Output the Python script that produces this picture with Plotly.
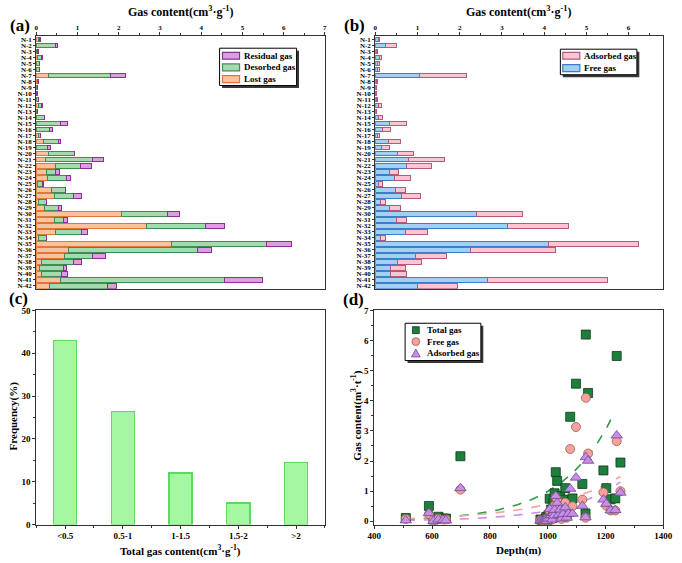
import numpy as np
import plotly.graph_objects as go

# ---------------- data ----------------
samples = [f"N-{i}" for i in range(1, 43)]

lost_gas = [0.05, 0.00, 0.01, 0.02, 0.01, 0.01, 0.30, 0.03, 0.01, 0.00,
            0.01, 0.06, 0.01, 0.01, 0.01, 0.01, 0.05, 0.17, 0.01, 0.29,
            0.22, 0.47, 0.25, 0.27, 0.02, 0.36, 0.44, 0.05, 0.20, 2.06,
            0.44, 2.68, 0.46, 0.05, 3.28, 0.79, 0.68, 0.12, 0.08, 0.13,
            0.59, 0.32]
desorbed_gas = [0.03, 0.46, 0.03, 0.11, 0.07, 0.07, 1.49, 0.02, 0.02, 0.01,
                0.04, 0.07, 0.01, 0.18, 0.58, 0.31, 0.05, 0.36, 0.27, 0.63,
                1.14, 0.61, 0.21, 0.47, 0.12, 0.34, 0.47, 0.19, 0.33, 1.12,
                0.21, 1.43, 0.64, 0.19, 2.31, 3.13, 0.68, 0.79, 0.59, 0.48,
                3.98, 1.41]
residual_gas = [0.03, 0.05, 0.01, 0.02, 0.01, 0.01, 0.37, 0.01, 0.01, 0.01,
                0.01, 0.01, 0.01, 0.02, 0.16, 0.07, 0.01, 0.07, 0.06, 0.01,
                0.27, 0.26, 0.10, 0.10, 0.03, 0.02, 0.19, 0.01, 0.08, 0.29,
                0.11, 0.46, 0.14, 0.02, 0.61, 0.34, 0.33, 0.19, 0.06, 0.15,
                0.92, 0.22]

free_gas = [0.08, 0.24, 0.04, 0.09, 0.05, 0.06, 1.05, 0.04, 0.03, 0.01,
            0.04, 0.08, 0.02, 0.08, 0.34, 0.17, 0.05, 0.32, 0.15, 0.52,
            0.79, 0.73, 0.34, 0.45, 0.08, 0.48, 0.62, 0.12, 0.34, 2.40,
            0.50, 3.13, 0.72, 0.12, 4.10, 2.25, 0.96, 0.52, 0.36, 0.36,
            2.66, 1.00]
adsorbed_gas = [0.03, 0.27, 0.01, 0.06, 0.04, 0.03, 1.10, 0.02, 0.01, 0.01,
                0.02, 0.06, 0.01, 0.09, 0.40, 0.20, 0.06, 0.27, 0.19, 0.38,
                0.84, 0.61, 0.21, 0.39, 0.09, 0.24, 0.46, 0.12, 0.25, 1.08,
                0.25, 1.45, 0.51, 0.13, 2.13, 2.01, 0.72, 0.58, 0.36, 0.37,
                2.85, 0.95]

depth = [509, 589, 605, 622, 638, 648, 698, 975, 980, 985,
         990, 995, 998, 1003, 1007, 1012, 1016, 1020, 1022, 1024,
         1028, 1033, 1038, 1043, 1048, 1053, 1061, 1066, 1072, 1078,
         1086, 1098, 1120, 1131, 1132, 1140, 1193, 1203, 1218, 1234,
         1239, 1252]

freq_bins = ["<0.5", "0.5-1", "1-1.5", "1.5-2", ">2"]
freq_vals = [43.0, 26.4, 12.1, 5.0, 14.5]

# exponential trend lines y = A * exp(B * (depth - 1000)), parameters
fit_total = dict(A=0.99, B=0.0056, start=509, end=1232)
fit_free = dict(A=0.56, B=0.00387, start=509, end=1252)
fit_adsorbed = dict(A=0.35, B=0.00523, start=509, end=1252)

# ---------------- styles ----------------
FONT = "Liberation Serif"
C_LOST, L_LOST = "#FBC39D", "#E0773A"
C_DES, L_DES = "#A6D9AE", "#3C8E55"
C_RES, L_RES = "#D9A0DC", "#8C2E98"
C_FREE, L_FREE = "#A3CFF3", "#3B7FC6"
C_ADS, L_ADS = "#FAC6D3", "#B55A78"
C_TOT_M, L_TOT_M = "#1D7F3B", "#0E3A1C"
C_FREE_M, L_FREE_M = "#F4A39B", "#9A5A55"
C_ADS_M, L_ADS_M = "#C88CEB", "#6E4A8A"

H = 563.0
W = 682.0
def px_(x):
    return x / W
def py(y):
    return 1 - y / H

fig = go.Figure()

# (a) stacked bars
for name, vals, fc, lc in [("Lost gas", lost_gas, C_LOST, L_LOST),
                           ("Desorbed gas", desorbed_gas, C_DES, L_DES),
                           ("Residual gas", residual_gas, C_RES, L_RES)]:
    fig.add_trace(go.Bar(y=samples, x=vals, orientation="h", name=name,
                         marker=dict(color=fc, line=dict(color=lc, width=1)),
                         width=0.78, xaxis="x", yaxis="y", showlegend=False))

# (b) stacked bars
for name, vals, fc, lc in [("Free gas", free_gas, C_FREE, L_FREE),
                           ("Adsorbed gas", adsorbed_gas, C_ADS, L_ADS)]:
    fig.add_trace(go.Bar(y=samples, x=vals, orientation="h", name=name,
                         marker=dict(color=fc, line=dict(color=lc, width=1)),
                         width=0.78, xaxis="x2", yaxis="y2", showlegend=False))

# (c) frequency
fig.add_trace(go.Bar(x=list(range(len(freq_bins))), y=freq_vals, width=0.4,
                     marker=dict(color="#A6F7A2", line=dict(color="#5FD85F", width=1.5)),
                     showlegend=False, xaxis="x3", yaxis="y3"))

# (d) scatter + exponential trend lines
total_gas = [a + b + c for a, b, c in zip(lost_gas, desorbed_gas, residual_gas)]

for p, col in [(fit_total, "#2E9B4A"), (fit_free, "#F5A49C"), (fit_adsorbed, "#C98CEB")]:
    xf = np.linspace(p["start"], p["end"], 120)
    yf = p["A"] * np.exp(p["B"] * (xf - 1000.0))
    fig.add_trace(go.Scatter(x=xf, y=yf, mode="lines", showlegend=False,
                             line=dict(color=col, width=1.6, dash="dash"),
                             xaxis="x4", yaxis="y4"))

fig.add_trace(go.Scatter(x=depth, y=total_gas, mode="markers", name="Total gas",
                         marker=dict(symbol="square", size=9, color=C_TOT_M,
                                     line=dict(color=L_TOT_M, width=0.8)),
                         xaxis="x4", yaxis="y4", showlegend=False))
fig.add_trace(go.Scatter(x=depth, y=free_gas, mode="markers", name="Free gas",
                         marker=dict(symbol="circle", size=9, color=C_FREE_M,
                                     line=dict(color=L_FREE_M, width=0.8)),
                         xaxis="x4", yaxis="y4", showlegend=False))
fig.add_trace(go.Scatter(x=depth, y=adsorbed_gas, mode="markers", name="Adsorbed gas",
                         marker=dict(symbol="triangle-up", size=10, color=C_ADS_M,
                                     line=dict(color=L_ADS_M, width=0.8)),
                         xaxis="x4", yaxis="y4", showlegend=False))

# ---------------- axes ----------------
tf_small = dict(family=FONT, size=7, color="black", weight="bold")
tf = dict(family=FONT, size=9, color="black", weight="bold")
axcommon = dict(showline=True, linecolor="#333", linewidth=1, mirror=True,
                ticks="outside", tickcolor="#333", showgrid=False, zeroline=False)
minor_x = lambda d: dict(dtick=d, ticks="outside", ticklen=2, tickcolor="#333")

xa = [px_(30), px_(326)]
xb = [px_(377.7), px_(673)]
ytop = [py(289), py(32)]
ybot = [py(529), py(311)]

fig.update_layout(
    width=682, height=563, margin=dict(l=0, r=0, t=0, b=0),
    paper_bgcolor="white", plot_bgcolor="white", barmode="stack", showlegend=False,
    xaxis=dict(domain=xa, anchor="y", side="top", range=[0, 7], dtick=1, ticklen=3,
               tickfont=tf_small, minor=minor_x(0.5), **axcommon),
    yaxis=dict(domain=ytop, anchor="x", type="category", categoryorder="array",
               categoryarray=samples, tickvals=samples, range=[41.5, -0.5],
               tickfont=tf_small, ticklen=2, **axcommon),
    xaxis2=dict(domain=xb, anchor="y2", side="top", range=[0, 6.82], dtick=1, ticklen=3,
                tickfont=tf_small, minor=minor_x(0.5), **axcommon),
    yaxis2=dict(domain=ytop, anchor="x2", type="category", categoryorder="array",
                categoryarray=samples, tickvals=samples, range=[41.5, -0.5],
                tickfont=tf_small, ticklen=2, **axcommon),
    xaxis3=dict(domain=xa, anchor="y3", range=[-0.5, 4.5], ticklen=3,
                tickvals=list(range(len(freq_bins))), ticktext=freq_bins, tickfont=tf,
                minor=minor_x(0.5), **axcommon),
    yaxis3=dict(domain=ybot, anchor="x3", range=[0, 50], dtick=10, ticklen=3,
                tickfont=tf, minor=minor_x(5), **axcommon),
    xaxis4=dict(domain=[px_(376.7), px_(673)], anchor="y4", range=[400, 1400],
                dtick=200, ticklen=3, tickfont=tf, minor=minor_x(100), **axcommon),
    yaxis4=dict(domain=ybot, anchor="x4", range=[-0.11, 7], dtick=1, ticklen=3,
                tickfont=tf, minor=minor_x(0.5), **axcommon),
)

# ---------------- text annotations ----------------
def ann(text, x, y, size, angle=0, xanchor="center"):
    fig.add_annotation(text=text, x=px_(x), y=py(y), xref="paper", yref="paper",
                       xanchor=xanchor, yanchor="middle",
                       showarrow=False, textangle=angle,
                       font=dict(family=FONT, size=size, color="black", weight="bold"))

ann("Gas content(cm<sup>3</sup>·g<sup>-1</sup>)", 178, 7, 12)
ann("Gas content(cm<sup>3</sup>·g<sup>-1</sup>)", 525, 7, 12)
ann("Total gas content(cm<sup>3</sup>·g<sup>-1</sup>)", 178, 555, 11)
ann("Depth(m)", 525, 555, 11)
ann("Frequency(%)", 7, 418, 11, -90)
ann("Gas content(m<sup>3</sup>·t<sup>-1</sup>)", 359, 418, 11, -90)
ann("(a)", 13, 21, 17)
ann("(b)", 356, 21, 17)
ann("(c)", 12, 299, 17)
ann("(d)", 355, 300, 17)

# ---------------- legends (drawn as boxes, symbols and text) ----------------
def shape_rect(x0, y0, x1, y1, fill, line, lw=1):
    fig.add_shape(type="rect", xref="paper", yref="paper",
                  x0=px_(x0), x1=px_(x1), y0=py(y1), y1=py(y0),
                  fillcolor=fill, line=dict(color=line, width=lw), layer="above")

def legend_box(x0, y0, x1, y1):
    shape_rect(x0 + 2.5, y0 + 2.5, x1 + 2.5, y1 + 2.5, "#3a3a3a", "#3a3a3a", 0)
    shape_rect(x0, y0, x1, y1, "white", "black", 1)

LEGFS = 9

# (a)
legend_box(218, 44, 297, 82)
for label, yc, fc, lc in [("Residual gas", 51.7, C_RES, L_RES),
                          ("Desorbed gas", 63.5, C_DES, L_DES),
                          ("Lost gas", 75.5, C_LOST, L_LOST)]:
    shape_rect(221, yc - 3.5, 238.5, yc + 3.5, fc, lc, 1.2)
    ann(label, 241.5, yc, LEGFS, xanchor="left")

# (b)
legend_box(567.5, 45, 646, 71)
for label, yc, fc, lc in [("Adsorbed gas", 51.7, C_ADS, L_ADS),
                          ("Free gas", 64.3, C_FREE, L_FREE)]:
    shape_rect(570, yc - 3.5, 587.5, yc + 3.5, fc, lc, 1.2)
    ann(label, 590, yc, LEGFS, xanchor="left")

# (d)
legend_box(408.3, 324, 486, 362)
mx = 419.3
shape_rect(mx - 3.5, 331 - 3.5, mx + 3.5, 331 + 3.5, C_TOT_M, L_TOT_M, 0.8)
ann("Total gas", 429, 331, LEGFS, xanchor="left")
fig.add_shape(type="circle", xref="paper", yref="paper",
              x0=px_(mx - 4), x1=px_(mx + 4), y0=py(342.7 + 4), y1=py(342.7 - 4),
              fillcolor=C_FREE_M, line=dict(color=L_FREE_M, width=0.8), layer="above")
ann("Free gas", 429, 342.7, LEGFS, xanchor="left")
ty = 354.5
tri = (f"M{px_(mx - 4.5)},{py(ty + 3.8)} L{px_(mx + 4.5)},{py(ty + 3.8)} "
       f"L{px_(mx)},{py(ty - 4.2)} Z")
fig.add_shape(type="path", xref="paper", yref="paper", path=tri,
              fillcolor=C_ADS_M, line=dict(color=L_ADS_M, width=0.8), layer="above")
ann("Adsorbed gas", 429, ty, LEGFS, xanchor="left")

fig.write_html("out.html")
